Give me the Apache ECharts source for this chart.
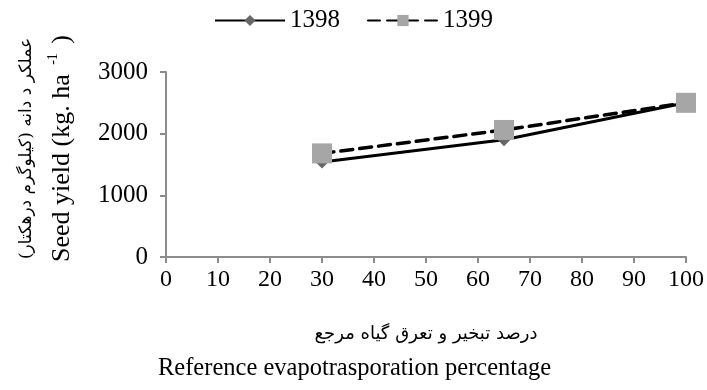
<!DOCTYPE html>
<html>
<head>
<meta charset="utf-8">
<script src="https://cdn.jsdelivr.net/npm/echarts@6/dist/echarts.min.js"></script>
<style>
  html, body { margin: 0; padding: 0; background: #fff; }
  #main { width: 707px; height: 390px; }
</style>
</head>
<body>
<div id="main"></div>
<script>
// data
var percentages = [30, 65, 100];
var yield1398 = [1540, 1900, 2500];
var yield1399 = [1680, 2060, 2500];
var seriesNames = ['1398', '1399'];

var serif = 'Liberation Serif, Times New Roman, serif';
var faFont = 'DejaVu Serif, DejaVu Sans, serif';

function pairs(xs, ys) {
    return xs.map(function (x, i) { return [x, ys[i]]; });
}

var myChart = echarts.init(document.getElementById('main'));

var option = {
    backgroundColor: '#fff',
    animation: false,
    legend: {
        top: 3,
        left: 'center',
        itemWidth: 70,
        itemHeight: 14,
        itemGap: 27,
        textStyle: { fontFamily: serif, fontSize: 25, color: '#000' },
        data: seriesNames
    },
    grid: { left: 166, right: 19, top: 72, bottom: 133 },
    xAxis: {
        type: 'value',
        min: 0,
        max: 100,
        interval: 10,
        name: 'درصد تبخیر و تعرق گیاه مرجع',
        nameLocation: 'middle',
        nameGap: 68,
        nameTextStyle: { fontFamily: faFont, fontSize: 18, color: '#000' },
        axisLine: { lineStyle: { color: '#8c8c8c', width: 2 } },
        axisTick: { length: 6, lineStyle: { color: '#8c8c8c', width: 2 } },
        axisLabel: { fontFamily: serif, fontSize: 24, color: '#000', margin: 11 },
        splitLine: { show: false }
    },
    yAxis: {
        type: 'value',
        min: 0,
        max: 3000,
        interval: 1000,
        name: '{fa|عملکر د دانه (کیلوگرم درهکتار)}\n{en|Seed yield (kg. ha }{sup|-1}{en| )}',
        nameLocation: 'middle',
        nameRotate: 90,
        nameGap: 88,
        nameTextStyle: {
            padding: [0, 0, 0, 32],
            rich: {
                fa: { fontFamily: faFont, fontSize: 17, color: '#000', lineHeight: 38 },
                en: { fontFamily: serif, fontSize: 26, color: '#000', lineHeight: 32 },
                sup: { fontFamily: serif, fontSize: 14, color: '#000', lineHeight: 32, verticalAlign: 'top', padding: [0, 3, 0, 3] }
            }
        },
        axisLine: { show: true, lineStyle: { color: '#8c8c8c', width: 2 } },
        axisTick: { show: true, length: 6, lineStyle: { color: '#8c8c8c', width: 2 } },
        axisLabel: {
            fontFamily: serif, fontSize: 25, color: '#000', margin: 18,
            formatter: function (v) { return String(v); }
        },
        splitLine: { show: false }
    },
    graphic: [{
        type: 'text',
        left: 158,
        top: 356,
        style: {
            text: 'Reference evapotrasporation percentage',
            font: '24.5px ' + serif,
            fill: '#000'
        }
    }],
    series: [
        {
            name: seriesNames[0],
            type: 'line',
            z: 2,
            data: pairs(percentages, yield1398),
            symbol: 'diamond',
            symbolSize: 13,
            showAllSymbol: true,
            itemStyle: { color: '#666' },
            lineStyle: { color: '#000', width: 3 }
        },
        {
            name: seriesNames[1],
            type: 'line',
            z: 3,
            data: pairs(percentages, yield1399),
            symbol: 'rect',
            symbolSize: 20,
            showAllSymbol: true,
            itemStyle: { color: '#a6a6a6' },
            lineStyle: { color: '#000', width: 3.5, type: [12, 7], cap: 'round' }
        }
    ]
};

myChart.setOption(option);
</script>
</body>
</html>
